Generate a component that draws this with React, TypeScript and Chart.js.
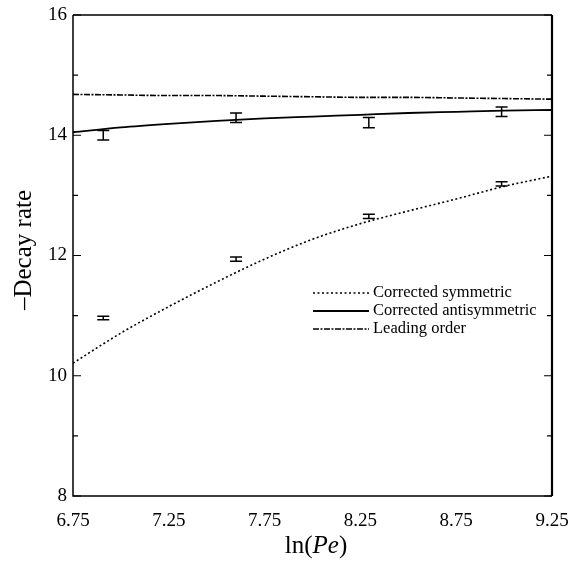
import React, { useEffect, useRef } from "react";
import { Chart, registerables } from "chart.js";
Chart.register(...registerables);

// Curve sample abscissae (ln Pe)
const curveX = [6.75, 7.0, 7.25, 7.5, 7.75, 8.0, 8.25, 8.5, 8.75, 9.0, 9.25];
const symmetricY = [10.21, 10.71, 11.15, 11.56, 11.94, 12.27, 12.53, 12.74, 12.94, 13.15, 13.32];
const antisymmetricY = [14.05, 14.13, 14.19, 14.24, 14.28, 14.31, 14.34, 14.37, 14.39, 14.41, 14.42];
const leadingY = [14.68, 14.67, 14.66, 14.66, 14.65, 14.64, 14.63, 14.63, 14.62, 14.61, 14.6];

// Measured points with error bars
const measuredX = [6.908, 7.601, 8.294, 8.987];
const symMeasured = [10.96, 11.94, 12.65, 13.19];
const symErr = [0.03, 0.035, 0.035, 0.035];
const antiMeasured = [14.0, 14.29, 14.21, 14.39];
const antiErr = [0.08, 0.08, 0.085, 0.08];

const seriesLabels = ["Corrected symmetric", "Corrected antisymmetric", "Leading order"];
const xTickValues = [6.75, 7.25, 7.75, 8.25, 8.75, 9.25];
const yMinorTicks = [9, 11, 13, 15];
const yMajorTicks = [8, 10, 12, 14, 16];

const SERIF = "'Liberation Serif', 'DejaVu Serif', serif";

const toPts = (xs: number[], ys: number[]) => xs.map((x, i) => ({ x, y: ys[i] }));

const decorPlugin = {
  id: "decor",
  afterDatasetsDraw(chart: any) {
    const { ctx, chartArea, scales } = chart;
    const xs = scales.x;
    const ys = scales.y;
    const { left, right, top, bottom } = chartArea;
    ctx.save();
    ctx.strokeStyle = "#000";
    ctx.fillStyle = "#000";

    // error bars
    const drawErr = (vals: number[], errs: number[], cap: number) => {
      ctx.lineWidth = 1.5;
      measuredX.forEach((xv, i) => {
        const px = xs.getPixelForValue(xv);
        const y1 = ys.getPixelForValue(vals[i] + errs[i]);
        const y2 = ys.getPixelForValue(vals[i] - errs[i]);
        ctx.beginPath();
        ctx.moveTo(px, y1);
        ctx.lineTo(px, y2);
        ctx.moveTo(px - cap, y1);
        ctx.lineTo(px + cap, y1);
        ctx.moveTo(px - cap, y2);
        ctx.lineTo(px + cap, y2);
        ctx.stroke();
      });
    };
    drawErr(symMeasured, symErr, 6);
    drawErr(antiMeasured, antiErr, 6);

    // frame
    ctx.lineWidth = 1.5;
    ctx.beginPath();
    ctx.moveTo(left, top);
    ctx.lineTo(left, bottom);
    ctx.lineTo(right, bottom);
    ctx.moveTo(left, top);
    ctx.lineTo(right, top);
    ctx.stroke();
    ctx.lineWidth = 2.2;
    ctx.beginPath();
    ctx.moveTo(right, top);
    ctx.lineTo(right, bottom);
    ctx.stroke();

    // inward ticks on y (both sides)
    ctx.lineWidth = 1.2;
    yMajorTicks.forEach((v) => {
      const py = ys.getPixelForValue(v);
      ctx.beginPath();
      ctx.moveTo(left, py);
      ctx.lineTo(left + 8, py);
      ctx.moveTo(right, py);
      ctx.lineTo(right - 8, py);
      ctx.stroke();
    });
    yMinorTicks.forEach((v) => {
      const py = ys.getPixelForValue(v);
      ctx.beginPath();
      ctx.moveTo(left, py);
      ctx.lineTo(left + 5, py);
      ctx.moveTo(right, py);
      ctx.lineTo(right - 5, py);
      ctx.stroke();
    });

    // legend
    const lx = 313;
    const lw = 56;
    const rowY = [293, 311, 329];
    chart.data.datasets.forEach((ds: any, i: number) => {
      const y = rowY[i];
      ctx.save();
      ctx.strokeStyle = ds.borderColor;
      ctx.lineWidth = ds.borderWidth;
      ctx.setLineDash(ds.borderDash || []);
      ctx.beginPath();
      ctx.moveTo(lx, y);
      ctx.lineTo(lx + lw, y);
      ctx.stroke();
      ctx.restore();
      ctx.font = `16.5px ${SERIF}`;
      ctx.textAlign = "left";
      ctx.textBaseline = "middle";
      ctx.fillText(ds.label, lx + lw + 4, y);
    });

    // axis titles
    ctx.font = `25px ${SERIF}`;
    ctx.textBaseline = "middle";
    ctx.save();
    ctx.translate(24, 250);
    ctx.rotate(-Math.PI / 2);
    ctx.textAlign = "center";
    ctx.fillText("\u2013Decay rate", 0, 0);
    ctx.restore();

    const parts = [
      { t: "ln", f: `25px ${SERIF}` },
      { t: "(", f: `25px ${SERIF}` },
      { t: "Pe", f: `italic 25px ${SERIF}` },
      { t: ")", f: `25px ${SERIF}` },
    ];
    let total = 0;
    const widths = parts.map((p) => {
      ctx.font = p.f;
      const w = ctx.measureText(p.t).width;
      total += w;
      return w;
    });
    let cx = 316 - total / 2;
    ctx.textAlign = "left";
    parts.forEach((p, i) => {
      ctx.font = p.f;
      ctx.fillText(p.t, cx, 546);
      cx += widths[i];
    });
    ctx.restore();
  },
};

export default function App() {
  const ref = useRef<HTMLCanvasElement | null>(null);
  useEffect(() => {
    if (!ref.current) return;
    const chart = new Chart(ref.current, {
      type: "line",
      data: {
        datasets: [
          {
            label: seriesLabels[0],
            data: toPts(curveX, symmetricY),
            borderColor: "#000",
            borderWidth: 1.6,
            borderDash: [2, 2.5],
            pointRadius: 0,
            cubicInterpolationMode: "monotone",
            fill: false,
          },
          {
            label: seriesLabels[1],
            data: toPts(curveX, antisymmetricY),
            borderColor: "#000",
            borderWidth: 1.8,
            pointRadius: 0,
            cubicInterpolationMode: "monotone",
            fill: false,
          },
          {
            label: seriesLabels[2],
            data: toPts(curveX, leadingY),
            borderColor: "#000",
            borderWidth: 1.6,
            borderDash: [6, 1.5, 2, 1.5],
            pointRadius: 0,
            cubicInterpolationMode: "monotone",
            fill: false,
          },
        ],
      },
      options: {
        responsive: false,
        animation: false,
        layout: { padding: { left: 0, top: 15, right: 19, bottom: 0 } },
        plugins: { legend: { display: false }, tooltip: { enabled: false } },
        scales: {
          x: {
            type: "linear",
            min: 6.75,
            max: 9.25,
            grid: { display: false, drawTicks: false },
            border: { display: false },
            afterFit: (s: any) => {
              s.height = 65;
              s.paddingLeft = 0;
              s.paddingRight = 0;
            },
            afterBuildTicks: (s: any) => {
              s.ticks = xTickValues.map((v) => ({ value: v }));
            },
            ticks: {
              padding: 14,
              color: "#000",
              maxRotation: 0,
              font: { family: SERIF, size: 19 },
              callback: (v: any) => Number(v).toFixed(2),
            },
          },
          y: {
            type: "linear",
            min: 8,
            max: 16,
            grid: { display: false, drawTicks: false },
            border: { display: false },
            afterFit: (s: any) => {
              s.width = 73;
              s.paddingTop = 0;
              s.paddingBottom = 0;
            },
            ticks: {
              stepSize: 2,
              padding: 6,
              color: "#000",
              font: { family: SERIF, size: 19 },
            },
          },
        },
      },
      plugins: [decorPlugin],
    } as any);
    return () => chart.destroy();
  }, []);
  return (
    <div style={{ position: "absolute", left: 0, top: 0, width: 571, height: 561, background: "#fff" }}>
      <canvas ref={ref} width={571} height={561} style={{ display: "block" }} />
    </div>
  );
}
